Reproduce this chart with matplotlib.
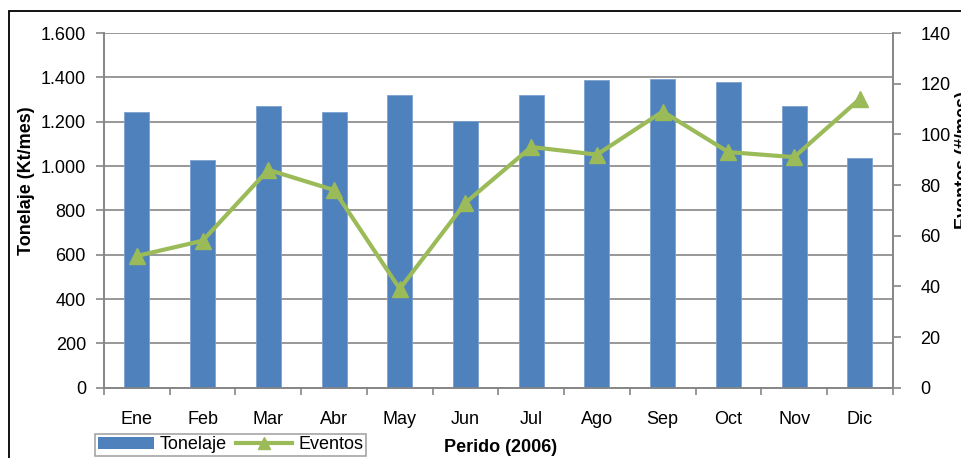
import matplotlib
matplotlib.use("Agg")
import matplotlib.pyplot as plt
import numpy as np
from matplotlib.patches import Rectangle
from matplotlib.lines import Line2D
from matplotlib.patches import Patch

months = ["Ene", "Feb", "Mar", "Abr", "May", "Jun", "Jul", "Ago", "Sep", "Oct", "Nov", "Dic"]
tonelaje = [1242, 1027, 1272, 1242, 1319, 1203, 1319, 1387, 1393, 1379, 1272, 1035]
eventos = [52, 58, 86, 78, 39, 73, 95, 92, 109, 93, 91, 114]
left_ticks = [0, 200, 400, 600, 800, 1000, 1200, 1400, 1600]
left_ticklabels = ["0", "200", "400", "600", "800", "1.000", "1.200", "1.400", "1.600"]
right_ticks = [0, 20, 40, 60, 80, 100, 120, 140]

plt.rcParams['font.family'] = ['Liberation Sans', 'DejaVu Sans']
FS = 13
BAR = "#4F81BD"
GRN = "#9BBB59"
GRID = "#868686"

fig = plt.figure(figsize=(9.61, 4.58), dpi=100)
ax = fig.add_axes([104/961, 1-387.7/458, (892.7-104)/961, (387.7-33)/458])
x = np.arange(len(months))
ax.bar(x, tonelaje, width=0.38, color=BAR, edgecolor="#7BA0D0", linewidth=0.6, zorder=3)
ax.set_xlim(-0.5, len(months)-0.5)
ax.set_ylim(0, 1600)
ax.set_yticks(left_ticks)
ax.set_yticklabels(left_ticklabels, fontsize=FS)
ax.grid(axis='y', color=GRID, linewidth=1.2, zorder=0)
ax.set_axisbelow(True)
ax.set_xticks(x)
ax.set_xticklabels(months, fontsize=FS)
ax.tick_params(axis='x', which='major', length=0, pad=17)
ax.set_xticks(np.arange(-0.5, len(months)), minor=True)
ax.tick_params(axis='x', which='minor', length=5, color=GRID, width=1.2, direction='out')
ax.tick_params(axis='y', length=6, color=GRID, width=1.2, direction='out', pad=7)
ax.spines['top'].set_visible(False)
for s in ['left', 'bottom', 'right']:
    ax.spines[s].set_color(GRID)
    ax.spines[s].set_linewidth(1.2)

ax2 = ax.twinx()
ax2.plot(x, eventos, color=GRN, linewidth=3, marker='^', markersize=12, zorder=4)
ax2.set_ylim(0, 140)
ax2.set_yticks(right_ticks)
ax2.set_yticklabels([str(v) for v in right_ticks], fontsize=FS)
ax2.tick_params(axis='y', length=6, color=GRID, width=1.2, direction='out', pad=14)
ax2.spines['top'].set_visible(False)
for s in ['left', 'bottom', 'right']:
    ax2.spines[s].set_color(GRID)
    ax2.spines[s].set_linewidth(1.2)

fig.text(27/961, 1-181/458, "Tonelaje (Kt/mes)", rotation=90, ha='center', va='center',
         fontsize=FS, fontweight='bold')
fig.text(964/961, 1-160/458, "Eventos (#/mes)", rotation=90, ha='center', va='center',
         fontsize=FS, fontweight='bold')
fig.text(501/961, 1-447/458, "Perido (2006)", ha='center', va='center',
         fontsize=FS, fontweight='bold')

# chart border
fig.patches.append(Rectangle((9/961, -0.1), 1.2, 1-11/458+0.1, transform=fig.transFigure,
                             fill=False, edgecolor='black', linewidth=1.3))

handles = [Patch(facecolor=BAR, edgecolor='none'),
           Line2D([0], [0], color=GRN, linewidth=3, marker='^', markersize=8)]
leg = fig.legend(handles, ["Tonelaje", "Eventos"], ncol=2, fontsize=FS,
                 loc='lower left', bbox_to_anchor=(95/961, 1-456/458),
                 frameon=True, fancybox=False, edgecolor=GRID, borderpad=0.15,
                 handlelength=3.1, handletextpad=0.35, columnspacing=0.5, borderaxespad=0)
leg.get_frame().set_linewidth(1.1)

fig.savefig("out.png", dpi=100)
